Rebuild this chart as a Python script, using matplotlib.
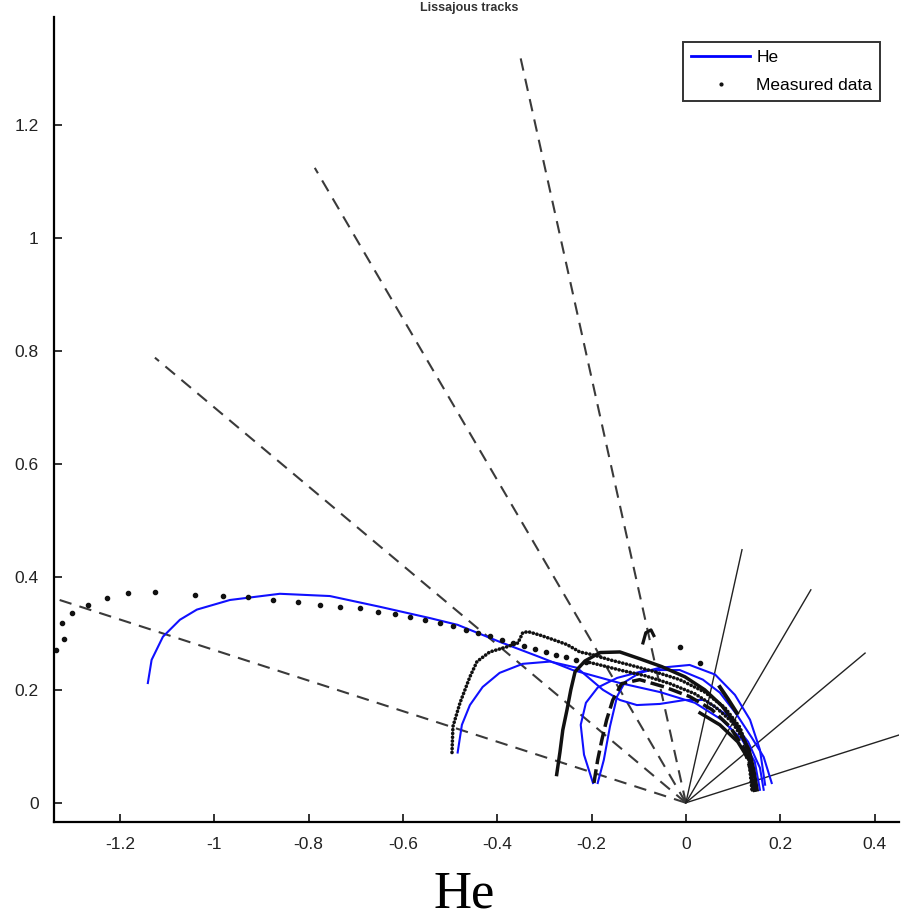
import matplotlib
matplotlib.use("Agg")
import matplotlib.pyplot as plt
from matplotlib.lines import Line2D

plt.rcParams['axes.unicode_minus'] = False

# ---------------- data ----------------
# dashed reference rays from origin (end points)
dash_end_x = [-0.352, -0.787, -1.126, -1.328]
dash_end_y = [1.324, 1.124, 0.788, 0.359]
# solid reference rays from origin (end points)
solid_end_x = [0.119, 0.265, 0.380, 0.452]
solid_end_y = [0.448, 0.377, 0.265, 0.120]

# model curves "He"
he1_x = [-1.141, -1.133, -1.109, -1.073, -1.037, -0.967, -0.861, -0.755, -0.649, -0.543, -0.484,
         -0.395, -0.310, -0.240, -0.140, -0.055, 0.019, 0.076, 0.119, 0.146, 0.157]
he1_y = [0.212, 0.253, 0.294, 0.324, 0.342, 0.359, 0.370, 0.366, 0.347, 0.327, 0.315,
         0.285, 0.258, 0.235, 0.212, 0.196, 0.177, 0.147, 0.112, 0.073, 0.023]
he2_x = [-0.484, -0.475, -0.458, -0.431, -0.395, -0.346, -0.288, -0.231, -0.176, -0.140, -0.104,
         -0.055, -0.002, 0.040, 0.089, 0.132, 0.157, 0.165]
he2_y = [0.089, 0.138, 0.173, 0.205, 0.230, 0.246, 0.250, 0.239, 0.200, 0.182, 0.173,
         0.175, 0.182, 0.182, 0.154, 0.108, 0.062, 0.023]
he3_x = [-0.197, -0.216, -0.223, -0.212, -0.187, -0.146, -0.083, -0.013, 0.036, 0.072, 0.108,
         0.140, 0.165, 0.182]
he3_y = [0.035, 0.085, 0.138, 0.177, 0.204, 0.221, 0.235, 0.235, 0.218, 0.195, 0.156,
         0.115, 0.081, 0.035]
he4_x = [-0.187, -0.174, -0.161, -0.146, -0.129, -0.098, -0.055, 0.008, 0.062, 0.104, 0.136,
         0.157, 0.168]
he4_y = [0.035, 0.076, 0.135, 0.188, 0.214, 0.230, 0.239, 0.244, 0.227, 0.191, 0.147,
         0.094, 0.032]

# measured data: sparse points
m1_x = [-1.336, -1.319, -1.324, -1.302, -1.268, -1.228, -1.184, -1.126, -1.041, -0.982, -0.929,
        -0.876, -0.823, -0.776, -0.734, -0.691, -0.653, -0.617, -0.585, -0.554, -0.522, -0.494,
        -0.467, -0.441, -0.416, -0.390, -0.367, -0.344, -0.320, -0.297, -0.276, -0.255, -0.233,
        -0.212]
m1_y = [0.271, 0.290, 0.319, 0.336, 0.350, 0.363, 0.372, 0.373, 0.368, 0.366, 0.365,
        0.359, 0.356, 0.350, 0.347, 0.345, 0.338, 0.335, 0.329, 0.324, 0.319, 0.313,
        0.306, 0.301, 0.296, 0.289, 0.283, 0.278, 0.273, 0.267, 0.262, 0.258, 0.253,
        0.250]
# measured data: dense tracks
m1d_x = [-0.212, -0.182, -0.140, -0.087, -0.034, 0.019, 0.062, 0.098, 0.125, 0.140, 0.146]
m1d_y = [0.250, 0.244, 0.235, 0.225, 0.211, 0.193, 0.170, 0.143, 0.108, 0.067, 0.023]
m2_x = [-0.496, -0.494, -0.479, -0.458, -0.443, -0.416, -0.380, -0.356, -0.346, -0.335, -0.310,
        -0.282, -0.252, -0.225, -0.197, -0.161, -0.119, -0.066, -0.013, 0.040, 0.083, 0.115,
        0.132, 0.140]
m2_y = [0.089, 0.135, 0.177, 0.223, 0.250, 0.267, 0.276, 0.283, 0.301, 0.303, 0.297,
        0.289, 0.280, 0.267, 0.262, 0.253, 0.244, 0.232, 0.218, 0.196, 0.168, 0.133,
        0.090, 0.023]
m3_x = [-0.274, -0.267, -0.261, -0.252, -0.244, -0.235, -0.214, -0.182, -0.140, -0.098, -0.051,
        -0.002, 0.040, 0.076, 0.110, 0.134, 0.144, 0.151]
m3_y = [0.050, 0.090, 0.129, 0.165, 0.200, 0.232, 0.251, 0.266, 0.267, 0.255, 0.241,
        0.223, 0.200, 0.172, 0.135, 0.094, 0.058, 0.023]
m4_x = [-0.195, -0.187, -0.178, -0.168, -0.155, -0.136, -0.098, -0.045, 0.008, 0.055, 0.093,
        0.123, 0.140, 0.146]
m4_y = [0.035, 0.076, 0.112, 0.147, 0.182, 0.211, 0.218, 0.205, 0.188, 0.165, 0.135,
        0.097, 0.050, 0.019]
m5_x = [-0.091, -0.085, -0.074, -0.068]
m5_y = [0.283, 0.301, 0.306, 0.296]
m6_x = [0.030, 0.072, 0.110, 0.136, 0.142]
m6_y = [0.159, 0.138, 0.108, 0.073, 0.023]
m7_x = [0.072, 0.089, 0.108]
m7_y = [0.205, 0.184, 0.159]
stray_x = [-0.013, 0.030]
stray_y = [0.276, 0.248]

x_ticks = [-1.2, -1.0, -0.8, -0.6, -0.4, -0.2, 0.0, 0.2, 0.4]
x_tick_labels = ['-1.2', '-1', '-0.8', '-0.6', '-0.4', '-0.2', '0', '0.2', '0.4']
y_ticks = [0.0, 0.2, 0.4, 0.6, 0.8, 1.0, 1.2]
y_tick_labels = ['0', '0.2', '0.4', '0.6', '0.8', '1', '1.2']

# ---------------- figure ----------------
fig = plt.figure(figsize=(9.03, 9.21), dpi=100)
ax = fig.add_axes([0.0598, 0.1075, 0.9358, 0.874])

for ex, ey in zip(dash_end_x, dash_end_y):
    ax.plot([0, ex], [0, ey], color='#3a3a3a', lw=1.5, linestyle=(0, (6, 4)))
for ex, ey in zip(solid_end_x, solid_end_y):
    ax.plot([0, ex], [0, ey], color='#222222', lw=1.0)

blue = '#1010ff'
for hx, hy in [(he1_x, he1_y), (he2_x, he2_y), (he3_x, he3_y), (he4_x, he4_y)]:
    ax.plot(hx, hy, color=blue, lw=1.5, solid_joinstyle='round')

dot_style = dict(color='#111111', lw=2.6, linestyle=(0, (0.05, 1.0)), dash_capstyle='round')
ax.plot(m1d_x, m1d_y, **dot_style)
ax.plot(m2_x, m2_y, **dot_style)
ax.plot(m3_x, m3_y, color='#111111', lw=2.5)
ax.plot(m4_x, m4_y, color='#111111', lw=2.5, linestyle=(0, (4, 1.5)))
ax.plot(m5_x, m5_y, color='#111111', lw=2.3)
ax.plot(m6_x, m6_y, color='#111111', lw=2.5)
ax.plot(m7_x, m7_y, color='#111111', lw=2.8)
ax.plot(m1_x, m1_y, '.', color='#111111', ms=6)
ax.plot(stray_x, stray_y, '.', color='#111111', ms=6)

ax.set_xlim(-1.34, 0.452)
ax.set_ylim(-0.034, 1.391)
ax.set_xticks(x_ticks)
ax.set_xticklabels(x_tick_labels)
ax.set_yticks(y_ticks)
ax.set_yticklabels(y_tick_labels)
for s in ['top', 'right']:
    ax.spines[s].set_visible(False)
for s in ['left', 'bottom']:
    ax.spines[s].set_linewidth(1.6)
ax.tick_params(direction='in', length=6, width=1.3, labelsize=12.5, colors='#222222')
ax.tick_params(axis='x', pad=11)
ax.tick_params(axis='y', pad=11)
for lab in ax.get_xticklabels() + ax.get_yticklabels():
    lab.set_family('Liberation Sans')

ax.set_xlabel('He', family='Liberation Serif', fontsize=38)
ax.xaxis.set_label_coords(0.485, -0.060)
ax.xaxis.label.set_va('top')

handles = [Line2D([], [], color='#0000ff', lw=2),
           Line2D([], [], color='#111111', marker='.', ms=4, ls='none')]
leg = fig.legend(handles, ['He', 'Measured data'], loc='upper right',
                 bbox_to_anchor=(880 / 903, 1 - 42 / 921), borderaxespad=0,
                 frameon=True, fancybox=False, edgecolor='black',
                 prop={'family': 'Liberation Sans', 'size': 12.5},
                 handlelength=3.4, handletextpad=0.35, borderpad=0.45, labelspacing=0.75)
leg.get_frame().set_linewidth(1.4)

# small title at the very top
fig.text(0.52, 1 - 2 / 921, 'Lissajous tracks', ha='center', va='top',
         fontsize=9, fontweight='bold', color='#333333', family='Liberation Sans')

fig.savefig('out.png', dpi=100)
